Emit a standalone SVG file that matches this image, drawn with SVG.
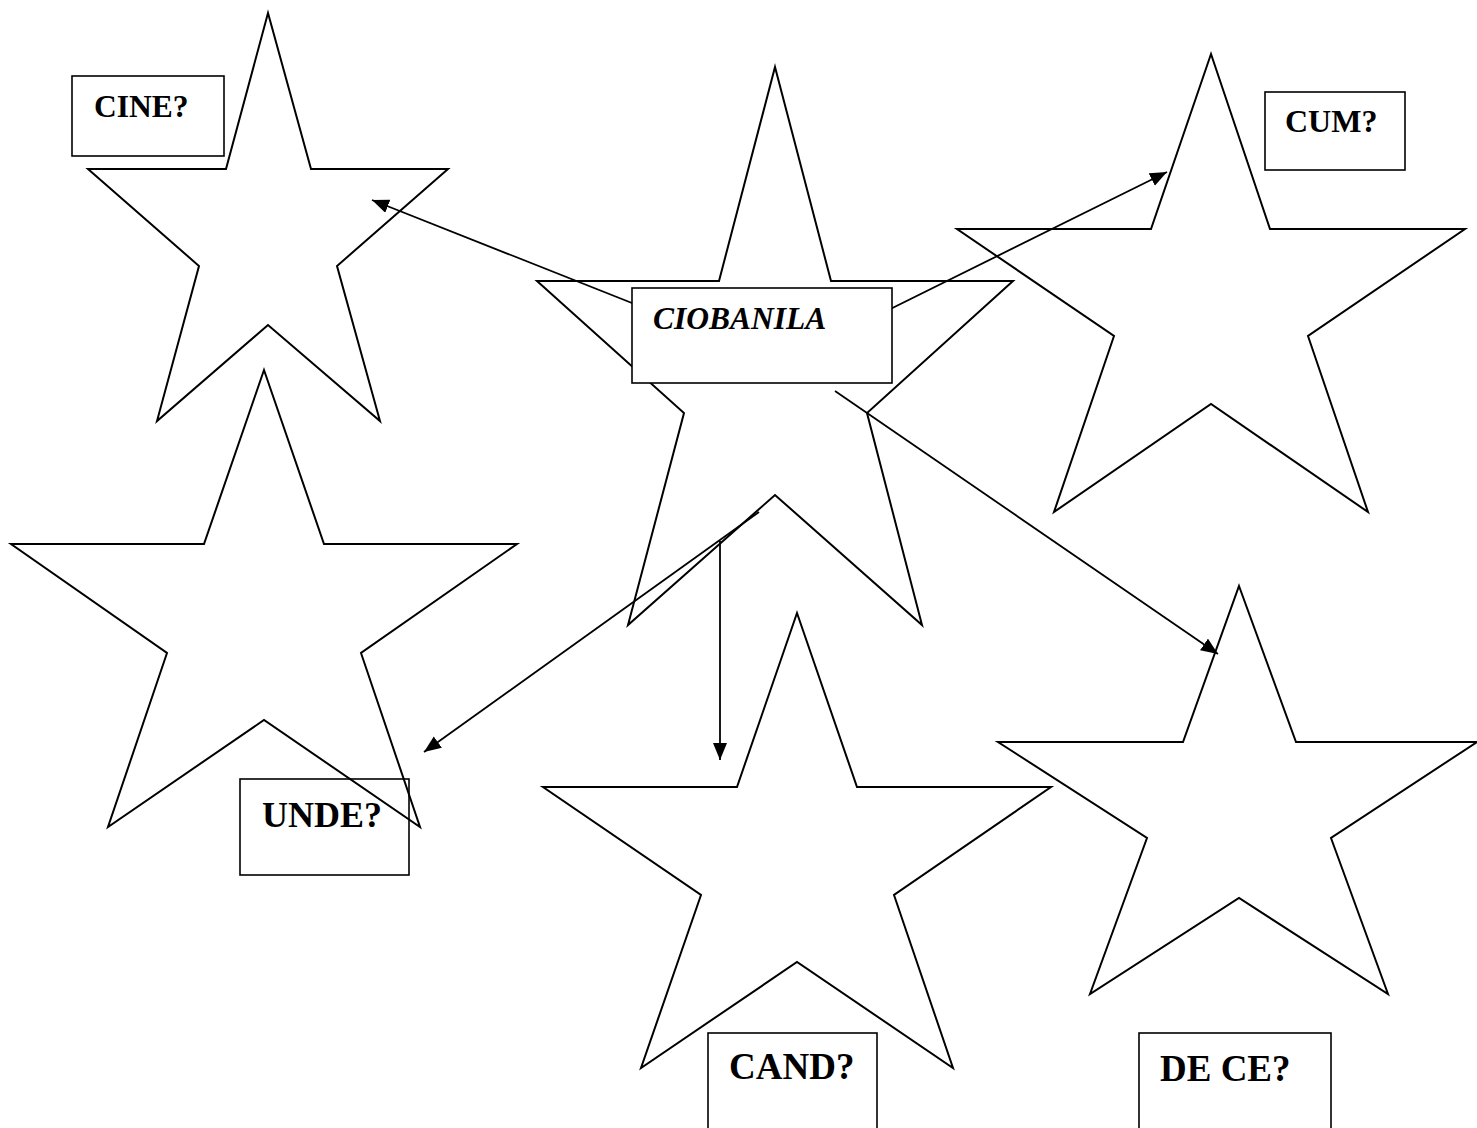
<svg xmlns="http://www.w3.org/2000/svg" width="1477" height="1128" viewBox="0 0 1477 1128">
<style>
.star{fill:none;stroke:#000;stroke-width:2;stroke-linejoin:miter}
.box{fill:#fff;stroke:#000;stroke-width:1.6}
.lbl{font-family:"Liberation Serif","Times New Roman",serif;font-weight:bold;fill:#000}
.conn{stroke:#000;stroke-width:1.8;fill:none}
</style>
<defs>
<marker id="ah" markerUnits="userSpaceOnUse" markerWidth="20" markerHeight="16" refX="17" refY="7" orient="auto">
<path d="M0,0 L17,7 L0,14 z" fill="#000"/>
</marker>
</defs>
<rect width="1477" height="1128" fill="#fff"/>
<g id="star-cine"><polygon class="star" points="268,13 311,169 448,169 337,266 380,421 268,325 157,421 199,266 88,169 226,169"/></g>
<g id="star-ciobanila"><polygon class="star" points="775,67 831,281 1013,281 867,413 922,625 775,495 628,625 684,413 537,281 719,281"/></g>
<g id="star-cum"><polygon class="star" points="1211,54 1270,229 1465,229 1308,336 1368,512 1211,404 1054,512 1114,336 957,229 1151,229"/></g>
<g id="star-cand"><polygon class="star" points="797,613 857,787 1051,787 894,895 953,1068 797,962 641,1068 701,895 543,787 737,787"/></g>
<g id="star-dece"><polygon class="star" points="1239,586 1296,742 1477,742 1331,838 1388,994 1239,898 1090,994 1147,838 998,742 1183,742"/></g>
<g id="connectors">
<line class="conn" x1="700" y1="330" x2="372" y2="200" marker-end="url(#ah)"/>
<line class="conn" x1="850" y1="329" x2="1167" y2="172" marker-end="url(#ah)"/>
<line class="conn" x1="835" y1="391" x2="1218" y2="654" marker-end="url(#ah)"/>
<line class="conn" x1="759" y1="512" x2="424" y2="752" marker-end="url(#ah)"/>
<line class="conn" x1="720" y1="541" x2="720" y2="760" marker-end="url(#ah)"/>
</g>
<g id="node-cine"><rect class="box" x="72" y="76" width="152" height="80"/><text class="lbl" x="94" y="117" font-size="31.5">CINE?</text></g>
<g id="node-cum"><rect class="box" x="1265" y="92" width="140" height="78"/><text class="lbl" x="1285" y="132" font-size="32">CUM?</text></g>
<g id="node-ciobanila"><rect class="box" x="632" y="288" width="260" height="95" stroke-width="2"/><text class="lbl" x="653" y="329" font-size="31.5" font-style="italic">CIOBANILA</text></g>
<g id="node-unde"><rect class="box" x="240" y="779" width="169" height="96"/><text class="lbl" x="262" y="827" font-size="36">UNDE?</text></g>
<g id="star-unde"><polygon class="star" points="264,370 324,544 517,544 361,653 420,827 264,720 108,827 167,653 11,544 204,544"/></g>
<g id="node-cand"><rect class="box" x="708" y="1033" width="169" height="110"/><text class="lbl" x="729" y="1079" font-size="37">CAND?</text></g>
<g id="node-dece"><rect class="box" x="1139" y="1033" width="192" height="110"/><text class="lbl" x="1160" y="1081" font-size="37">DE CE?</text></g>
</svg>
